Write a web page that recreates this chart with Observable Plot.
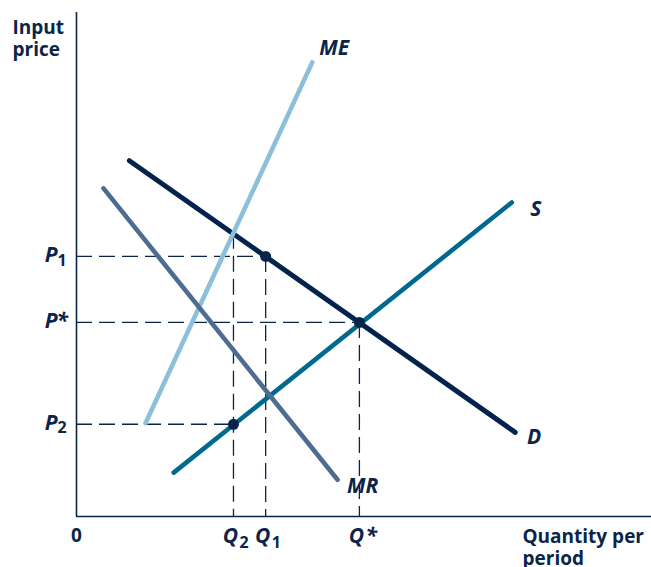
<!DOCTYPE html>
<html><head><meta charset="utf-8">
<script src="https://cdn.jsdelivr.net/npm/d3@7"></script>
<script src="https://cdn.jsdelivr.net/npm/@observablehq/plot@0.6"></script>
<style>body{margin:0;background:#fff} svg{display:block}</style>
</head><body><div id="chart"></div>
<script>
// Curves (quantity / price in axis units 0..100)
const curveNames = ["D", "S", "ME", "MR"];
const curveStartQ = [9.2, 16.9, 12.0, 4.7];
const curveStartP = [70.6, 8.7, 18.5, 65.1];
const curveEndQ = [76.3, 75.7, 41.0, 45.4];
const curveEndP = [16.7, 62.3, 90.1, 7.3];

// Marked points: suffixes for P/Q labels
const pointSuffix = ["1", "*", "2"];
const pointQ = [32.9, 49.2, 27.3];
const pointP = [51.6, 38.5, 18.3];
const guideTopP = [51.6, 38.5, 56.2]; // top of the vertical dashed guides

const yTitle = "Input\nprice";
const xTitle = "Quantity per\nperiod";
const originLabel = "0";

// ---- drawing ----
const navy = "#0b2549";
const colors = {D: "#03234d", S: "#006a8e", ME: "#8cc0da", MR: "#4d6c8f"};
const widths = {D: 5, S: 4.6, ME: 4.6, MR: 4.6};
const labelOffsets = {D: [19, 5], S: [24, 7], ME: [22, -14], MR: [25, 7]};

const ci = d3.range(curveNames.length);
const pi = d3.range(pointSuffix.length);
const digitIdx = pi.filter(i => pointSuffix[i] !== "*");
const starIdx = pi.filter(i => pointSuffix[i] === "*");

const bi = {fontWeight: "bold", fontStyle: "italic", fill: navy, fontSize: 21};
const sub = {fontWeight: "bold", fill: navy, fontSize: 16};

const plot = Plot.plot({
  width: 651, height: 567,
  marginLeft: 76, marginRight: 0, marginTop: 12, marginBottom: 51,
  x: {domain: [0, 100], axis: null},
  y: {domain: [0, 100], axis: null},
  style: {fontFamily: "'Open Sans', sans-serif", background: "white", overflow: "visible"},
  marks: [
    // dashed guides
    Plot.ruleY(pi, {y: i => pointP[i], x1: 0, x2: i => pointQ[i], stroke: navy, strokeWidth: 1.3, strokeDasharray: "16,7"}),
    Plot.ruleX(pi, {x: i => pointQ[i], y1: i => guideTopP[i], y2: 0, stroke: navy, strokeWidth: 1.3, strokeDasharray: "16,7"}),
    // axes
    Plot.ruleX([0], {y1: 0, y2: 100, stroke: navy, strokeWidth: 1.6}),
    Plot.ruleY([0], {x1: 0, x2: 100, stroke: navy, strokeWidth: 1.6}),
    // curves
    ...ci.map(i => Plot.line([0, 1], {
      x: k => k ? curveEndQ[i] : curveStartQ[i],
      y: k => k ? curveEndP[i] : curveStartP[i],
      stroke: colors[curveNames[i]], strokeWidth: widths[curveNames[i]]})),
    // points
    Plot.dot(pi, {x: i => pointQ[i], y: i => pointP[i], r: 5.5, fill: navy}),
    // curve labels
    ...ci.map(i => Plot.text([i], {x: j => curveEndQ[j], y: j => curveEndP[j], text: j => curveNames[j],
      dx: labelOffsets[curveNames[i]][0], dy: labelOffsets[curveNames[i]][1], ...bi})),
    // P labels
    Plot.text(pi, {x: 0, y: i => pointP[i], text: () => "P", textAnchor: "end", dx: i => 0, ...bi, dx: -19, dy: -1.5}),
    Plot.text(digitIdx, {x: 0, y: i => pointP[i], text: i => pointSuffix[i], textAnchor: "start", dx: -19, dy: 4, ...sub}),
    Plot.text(starIdx, {x: 0, y: i => pointP[i], text: i => pointSuffix[i], textAnchor: "start", dx: -20, dy: -1.5, ...bi}),
    // Q labels
    Plot.text(pi, {x: i => pointQ[i], y: 0, text: () => "Q", textAnchor: "middle", dx: -3, dy: 20, ...bi}),
    Plot.text(digitIdx, {x: i => pointQ[i], y: 0, text: i => pointSuffix[i], textAnchor: "start", dx: 6, dy: 26, ...sub}),
    Plot.text(starIdx, {x: i => pointQ[i], y: 0, text: i => pointSuffix[i], textAnchor: "start", dx: 6, dy: 20, ...bi}),
    // axis titles
    Plot.text([0], {x: 0, y: 100, text: () => yTitle, textAnchor: "start", lineAnchor: "top", dx: -64, dy: 5, lineHeight: 1.2, fontWeight: "bold", fill: navy, fontSize: 19}),
    Plot.text([0], {x: 100, y: 0, text: () => xTitle, textAnchor: "start", lineAnchor: "top", dx: -129, dy: 11, lineHeight: 1.15, fontWeight: "bold", fill: navy, fontSize: 19}),
    Plot.text([0], {x: 0, y: 0, text: () => originLabel, dy: 19, fontWeight: "bold", fill: navy, fontSize: 19})
  ]
});
document.getElementById("chart").appendChild(plot);
</script>
</body></html>
